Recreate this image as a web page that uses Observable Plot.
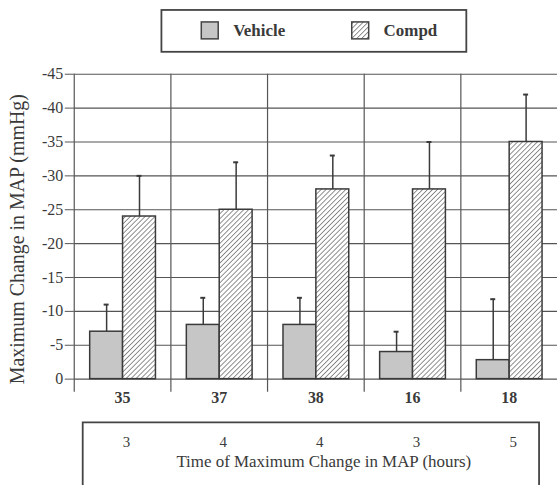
<!DOCTYPE html>
<html><head><meta charset="utf-8">
<script src="https://cdn.jsdelivr.net/npm/d3@7"></script>
<script src="https://cdn.jsdelivr.net/npm/@observablehq/plot@0.6"></script>
<style>html,body{margin:0;padding:0;overflow:hidden;background:#fff}</style>
</head><body><div id="chart"></div>
<script>
const groups = ["35", "37", "38", "16", "18"];
const series = ["Vehicle", "Compd"];
const vehicleMean = [-7, -8, -8, -4, -2.8];
const vehicleUpper = [-11, -12, -12, -7, -11.8];
const compdMean = [-24, -25, -28, -28, -35];
const compdUpper = [-30, -32, -33, -35, -42];
const hours = [3, 4, 4, 3, 5];
const yTicks = [0, -5, -10, -15, -20, -25, -30, -35, -40, -45];

const data = groups.flatMap((g, i) => [
  {group: g, series: "Vehicle", mean: vehicleMean[i], upper: vehicleUpper[i]},
  {group: g, series: "Compd", mean: compdMean[i], upper: compdUpper[i]}
]);
const hoursData = groups.map((g, i) => ({group: g, hours: String(hours[i])}));

const ink = "#3a3a3a";
const font = "Liberation Serif, serif";
const chart = Plot.plot({
  width: 560, height: 487,
  marginTop: 74, marginBottom: 107, marginLeft: 73, marginRight: 0,
  style: {fontFamily: font, fontSize: "16px", color: ink, background: "white"},
  fx: {domain: groups, padding: 0, label: null},
  x: {domain: series, paddingInner: 0, paddingOuter: 0.45, axis: null},
  y: {domain: [0, -45]},
  marks: [
    Plot.gridY(yTicks, {stroke: "#555", strokeOpacity: 1, strokeWidth: 1.2}),
    Plot.frame({anchor: "left", insetBottom: -12, stroke: "#555", strokeWidth: 1.2}),
    Plot.barY(data.filter(d => d.series === "Vehicle"), {fx: "group", x: "series", y: "mean", fill: "#c6c6c6", stroke: ink, strokeWidth: 1.5}),
    Plot.barY(data.filter(d => d.series === "Compd"), {fx: "group", x: "series", y: "mean", fill: "url(#hatch)", stroke: ink, strokeWidth: 1.5}),
    Plot.ruleX(data, {fx: "group", x: "series", y1: "mean", y2: "upper", stroke: ink, strokeWidth: 1.5}),
    Plot.tickY(data, {fx: "group", x: "series", y: "upper", insetLeft: 14, insetRight: 14, stroke: ink, strokeWidth: 2}),
    Plot.axisY(yTicks, {tickSize: 9, tickPadding: 2, tickFormat: d => String(d), fontSize: 16,
      label: null, stroke: "#555"}),
    Plot.axisFx({anchor: "bottom", tickSize: 0, tickPadding: 13, fontWeight: "bold", fontSize: 16, label: null}),
    Plot.text(hoursData, {fx: "group", y: () => 9.3, text: "hours", dx: 4, fontSize: 15, fill: ink})
  ]
});
document.getElementById("chart").append(chart);

const svg = d3.select(chart);
const defs = svg.insert("defs", ":first-child");
const pat = defs.append("pattern").attr("id", "hatch").attr("patternUnits", "userSpaceOnUse")
  .attr("width", 3.5).attr("height", 3.5).attr("patternTransform", "rotate(45)");
pat.append("rect").attr("width", 3.5).attr("height", 3.5).attr("fill", "#fff");
pat.append("line").attr("x1", 0).attr("y1", 0).attr("x2", 0).attr("y2", 3.5).attr("stroke", "#555").attr("stroke-width", 1.3);

// Y axis title
svg.append("text").attr("transform", "translate(17,240) rotate(-90)")
  .attr("text-anchor", "middle").attr("dominant-baseline", "central")
  .attr("font-family", font).attr("font-size", 20).attr("fill", ink)
  .text("Maximum Change in MAP (mmHg)");

// Legend
const lg = svg.append("g").attr("font-family", font);
lg.append("rect").attr("x", 162).attr("y", 10).attr("width", 306).attr("height", 42)
  .attr("fill", "none").attr("stroke", "#444").attr("stroke-width", 1.8);
const items = [{s: series[0], fill: "#c6c6c6", x: 202}, {s: series[1], fill: "url(#hatch)", x: 353}];
items.forEach(it => {
  lg.append("rect").attr("x", it.x).attr("y", 22).attr("width", 17).attr("height", 17)
    .attr("fill", it.fill).attr("stroke", "#444").attr("stroke-width", 1.5);
  lg.append("text").attr("x", it.x + 32).attr("y", 36).attr("text-anchor", "start")
    .attr("font-size", 17).attr("font-weight", "bold").attr("fill", ink).text(it.s);
});

// Bottom box
svg.append("path").attr("d", "M83,495V424H541V495").attr("fill", "none").attr("stroke", "#444").attr("stroke-width", 1.8);
svg.append("text").attr("x", 325).attr("y", 469).attr("text-anchor", "middle")
  .attr("font-family", font).attr("font-size", 17).attr("fill", ink)
  .text("Time of Maximum Change in MAP (hours)");
</script></body></html>
